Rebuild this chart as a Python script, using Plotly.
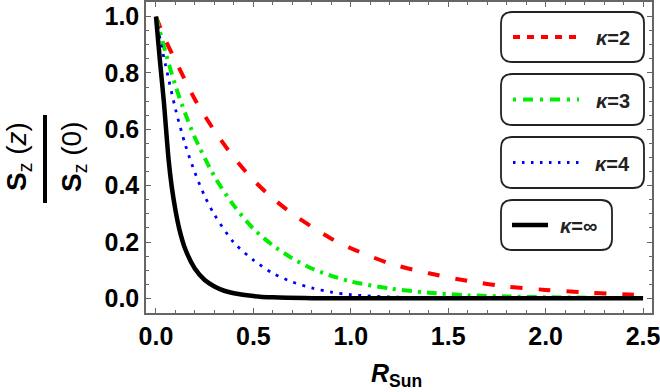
import plotly.graph_objects as go

# data
z_k2 = [0, 0.05, 0.1, 0.2, 0.3, 0.4, 0.5, 0.6, 0.7, 0.8, 0.9, 1.0,
        1.2, 1.4, 1.6, 1.8, 2.0, 2.2, 2.5]
s_k2 = [1.0, 0.915, 0.844, 0.706, 0.595, 0.50, 0.42, 0.355, 0.30, 0.254,
        0.212, 0.178, 0.124, 0.089, 0.062, 0.042, 0.030, 0.021, 0.011]

z_k3 = [0, 0.05, 0.1, 0.15, 0.2, 0.3, 0.4, 0.5, 0.6, 0.7, 0.8, 0.9, 1.0,
        1.2, 1.4, 1.6, 1.8, 2.0, 2.25, 2.5]
s_k3 = [1.0, 0.871, 0.754, 0.656, 0.570, 0.433, 0.329, 0.247, 0.188, 0.142,
        0.106, 0.080, 0.060, 0.035, 0.020, 0.011, 0.0068, 0.004, 0.002, 0.001]

z_k4 = [0, 0.025, 0.05, 0.1, 0.15, 0.2, 0.25, 0.3, 0.4, 0.5, 0.6, 0.7, 0.8,
        0.9, 1.0, 1.2, 1.5, 2.0, 2.5]
s_k4 = [1.0, 0.905, 0.825, 0.672, 0.546, 0.446, 0.363, 0.297, 0.198, 0.136,
        0.089, 0.058, 0.037, 0.022, 0.013, 0.005, 0.0015, 0.0002, 0.0]

z_inf = [0, 0.02, 0.04, 0.065, 0.08, 0.1, 0.12, 0.15, 0.2, 0.25, 0.3, 0.35,
         0.4, 0.5, 0.6, 0.8, 1.0, 1.5, 2.0, 2.5]
s_inf = [1.0, 0.845, 0.70, 0.49, 0.40, 0.312, 0.245, 0.175, 0.105, 0.065,
         0.042, 0.027, 0.018, 0.008, 0.0035, 0.0007, 0.0001, 0.0, 0.0, 0.0]

labels = ["<i>κ</i>=2", "<i>κ</i>=3", "<i>κ</i>=4", "<i>κ</i>=∞"]
x_ticks = [0.0, 0.5, 1.0, 1.5, 2.0, 2.5]
y_ticks = [0.0, 0.2, 0.4, 0.6, 0.8, 1.0]

W, H = 660, 392
L, R, T, B = 146, 8, 2, 79
PW, PH = W - L - R, H - T - B


def px(x):
    return (x - L) / PW


def py(y):
    return (H - B - y) / PH


def rounded_box(x0, y0, x1, y1, r):
    '''rounded rectangle path in paper coords from pixel corners'''
    pts = [
        f"M {px(x0 + r)},{py(y0)}",
        f"L {px(x1 - r)},{py(y0)}",
        f"Q {px(x1)},{py(y0)} {px(x1)},{py(y0 + r)}",
        f"L {px(x1)},{py(y1 - r)}",
        f"Q {px(x1)},{py(y1)} {px(x1 - r)},{py(y1)}",
        f"L {px(x0 + r)},{py(y1)}",
        f"Q {px(x0)},{py(y1)} {px(x0)},{py(y1 - r)}",
        f"L {px(x0)},{py(y0 + r)}",
        f"Q {px(x0)},{py(y0)} {px(x0 + r)},{py(y0)}",
        "Z",
    ]
    return " ".join(pts)


styles = [
    dict(color="#ff0000", width=4, dash="12px,16px"),
    dict(color="#00ee00", width=4, dash="10px,6px,3px,6px"),
    dict(color="#0000ff", width=2.8, dash="3px,6.5px"),
    dict(color="#000000", width=4.5, dash="solid"),
]
series = [(z_k2, s_k2), (z_k3, s_k3), (z_k4, s_k4), (z_inf, s_inf)]

fig = go.Figure()
for (zz, ss), st, lab in zip(series, styles, labels):
    fig.add_trace(go.Scatter(
        x=zz, y=ss, mode="lines", name=lab,
        line=dict(color=st["color"], width=st["width"], dash=st["dash"],
                  shape="spline", smoothing=0.8),
        showlegend=False))

# hand drawn legend: one rounded box per entry
legend_boxes = [(501, 12, 644, 62), (501, 74, 644, 125),
                (501, 137, 644, 188), (501, 200, 612, 250)]
legend_lines = [(513, 579), (513, 579), (513, 579), (512, 548)]
legend_dash = ["7px,7px", "3px,7px,10px,7px", "2.5px,6.5px", "solid"]
legend_text_x = [632, 632, 632, 599]

shapes = []
annotations = []
for i, (box, ln) in enumerate(zip(legend_boxes, legend_lines)):
    x0, y0, x1, y1 = box
    cy = (y0 + y1) / 2
    shapes.append(dict(type="path", xref="paper", yref="paper",
                       path=rounded_box(x0, y0, x1, y1, 11),
                       line=dict(color="#222222", width=1.8),
                       fillcolor="white"))
    shapes.append(dict(type="line", xref="paper", yref="paper",
                       x0=px(ln[0]), x1=px(ln[1]), y0=py(cy), y1=py(cy),
                       line=dict(color=styles[i]["color"],
                                 width=styles[i]["width"],
                                 dash=legend_dash[i])))
    annotations.append(dict(text=labels[i], xref="paper", yref="paper",
                            x=px(legend_text_x[i]), y=py(cy + 1),
                            xanchor="right", yanchor="middle",
                            showarrow=False,
                            font=dict(family="Liberation Sans", size=20,
                                      color="#222222", weight="bold")))

# y axis title drawn as a fraction
shapes.append(dict(type="line", xref="paper", yref="paper",
                   x0=px(45), x1=px(45), y0=py(115), y1=py(203),
                   line=dict(color="black", width=4)))
annotations.append(dict(text="<b>S</b><sub>z</sub> (<i>z</i>)",
                        xref="paper", yref="paper", x=px(18), y=py(157),
                        textangle=-90, xanchor="center", yanchor="middle",
                        showarrow=False,
                        font=dict(family="Liberation Sans", size=28,
                                  color="black")))
annotations.append(dict(text="<b>S</b><sub>z</sub> (0)", xref="paper",
                        yref="paper", x=px(73), y=py(157), textangle=-90,
                        xanchor="center", yanchor="middle", showarrow=False,
                        font=dict(family="Liberation Sans", size=28,
                                  color="black")))
# x axis title
annotations.append(dict(text="<i>R</i><sub>Sun</sub>", xref="paper",
                        yref="paper", x=px(396), y=py(357),
                        xanchor="center", yanchor="top", showarrow=False,
                        font=dict(family="Liberation Sans", size=25,
                                  color="black", weight="bold")))

axis_common = dict(
    showline=True, linecolor="#666666", linewidth=1.5, mirror="allticks",
    ticks="inside", ticklen=5, tickwidth=1, tickcolor="#666666",
    showgrid=False, zeroline=False, automargin=False,
    ticklabeloverflow="allow",
    tickfont=dict(family="Liberation Sans", size=25, color="black",
                  weight="bold"),
)

fig.update_layout(
    width=W, height=H,
    margin=dict(l=L, r=R, t=T, b=B),
    paper_bgcolor="white", plot_bgcolor="white",
    xaxis=dict(range=[-0.0513, 2.546], tickvals=x_ticks,
               ticktext=[f"{v:.1f}" for v in x_ticks],
               minor=dict(dtick=0.1, tick0=0, ticks="inside", ticklen=3,
                          tickcolor="#666666", showgrid=False),
               **axis_common),
    yaxis=dict(range=[-0.052, 1.052], tickvals=y_ticks,
               ticktext=[f"{v:.1f}" for v in y_ticks],
               minor=dict(dtick=0.05, tick0=0, ticks="inside", ticklen=3,
                          tickcolor="#666666", showgrid=False),
               **axis_common),
    shapes=shapes,
    annotations=annotations,
)

# the page body has a default 8px margin; drop it so the chart fills the window
fig.write_html("out.html", config={"displayModeBar": False},
               post_script="document.body.style.margin='0';")
